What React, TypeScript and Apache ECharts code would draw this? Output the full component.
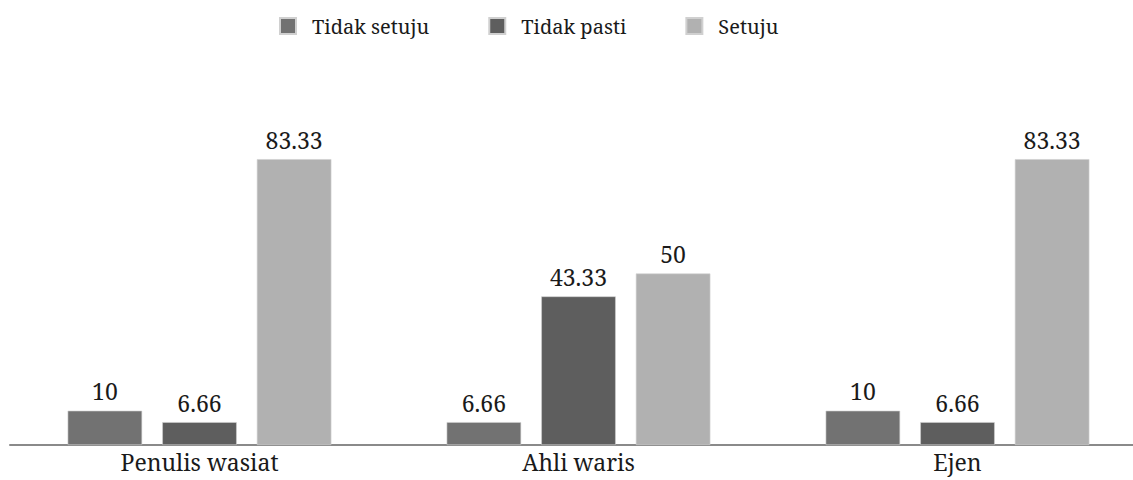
import React, { useEffect, useRef } from "react";
import * as echarts from "echarts";

const categories = ["Penulis wasiat", "Ahli waris", "Ejen"];
const seriesNames = ["Tidak setuju", "Tidak pasti", "Setuju"];
const tidakSetuju = [10, 6.66, 10];
const tidakPasti = [6.66, 43.33, 6.66];
const setuju = [83.33, 50, 83.33];
const colors = ["#727272", "#5e5e5e", "#b1b1b1"];

export default function App() {
  const ref = useRef<HTMLDivElement>(null);
  useEffect(() => {
    if (!ref.current) return;
    const chart = echarts.init(ref.current, null, { renderer: "svg" });
    const font = "Noto Serif";
    const values = [tidakSetuju, tidakPasti, setuju];
    chart.setOption({
      animation: false,
      textStyle: { fontFamily: font },
      legend: {
        top: 11,
        left: 274,
        itemWidth: 16,
        itemHeight: 16,
        itemGap: 59,
        icon: "rect",
        textStyle: {
          fontFamily: font,
          fontSize: 20,
          color: "#1a1a1a",
          padding: [0, 0, 0, 11],
        },
        data: seriesNames,
      },
      grid: { left: 10, right: 0, top: 102, bottom: 35 },
      xAxis: {
        type: "category",
        data: categories,
        axisLine: { lineStyle: { color: "#8a8a8a", width: 2 } },
        axisTick: { show: false },
        axisLabel: {
          fontFamily: font,
          fontSize: 23,
          color: "#1a1a1a",
          margin: 5,
        },
      },
      yAxis: {
        type: "value",
        min: 0,
        max: 100,
        show: false,
        splitLine: { show: false },
      },
      series: seriesNames.map((name, i) => ({
        name,
        type: "bar",
        data: values[i],
        barWidth: 74.5,
        barGap: "27%",
        itemStyle: { color: colors[i], borderColor: "#d0d0d0", borderWidth: 0.6 },
        label: {
          show: true,
          position: "top",
          distance: 8,
          fontFamily: font,
          fontSize: 23,
          color: "#1a1a1a",
        },
      })),
    });
    return () => chart.dispose();
  }, []);
  return (
    <div
      style={{ position: "absolute", left: 0, top: 0, width: 1133, height: 480, overflow: "hidden", background: "#fff" }}
    >
      <div ref={ref} style={{ width: 1147, height: 480 }} />
    </div>
  );
}
